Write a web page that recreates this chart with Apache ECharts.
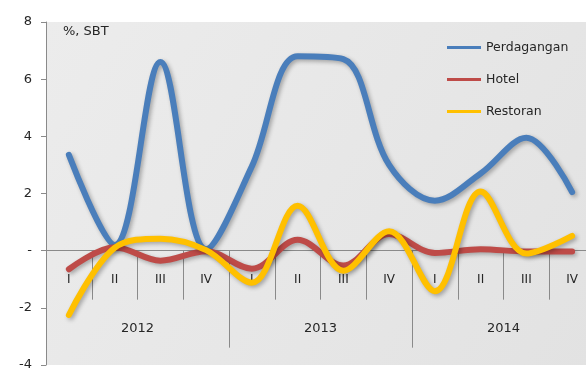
<!DOCTYPE html>
<html>
<head>
<meta charset="utf-8">
<script src="https://cdn.jsdelivr.net/npm/echarts@6/dist/echarts.min.js"></script>
<style>
  html, body { margin: 0; padding: 0; background: #ffffff; }
  #chart { width: 586px; height: 372px; }
</style>
</head>
<body>
<div id="chart"></div>
<script>
// Quarterly growth (%, q-o-q) of trade, hotel and restaurant sectors
var quarters = ['I', 'II', 'III', 'IV', 'I', 'II', 'III', 'IV', 'I', 'II', 'III', 'IV'];
var years = ['2012', '2013', '2014'];
var perdagangan = [3.35, 0.2, 6.6, 0.05, 2.95, 6.8, 6.7, 3.0, 1.75, 2.7, 3.95, 2.05];
var hotel = [-0.65, 0.12, -0.35, -0.02, -0.63, 0.38, -0.52, 0.58, -0.08, 0.05, -0.03, -0.03];
var restoran = [-2.25, 0.1, 0.42, 0.02, -1.12, 1.57, -0.7, 0.68, -1.42, 2.07, -0.1, 0.52];
var yTicks = { min: -4, max: 8, step: 2 };

var FONT = 'DejaVu Sans';
var TEXT = '#262626';
var AXIS = '#8a8a8a';

// plot box
var GRID = { left: 46, top: 22, width: 549, height: 343 };
// distance from the bottom edge of the plot up to the zero line
var zeroLift = GRID.height * (0 - yTicks.min) / (yTicks.max - yTicks.min);

var chart = echarts.init(document.getElementById('chart'), null, { renderer: 'canvas' });

function lineSeries(name, values, color) {
  return {
    name: name,
    type: 'line',
    data: values,
    smooth: 0.35,
    symbol: 'none',
    lineStyle: {
      color: color,
      width: 6,
      cap: 'round',
      shadowColor: 'rgba(0,0,0,0.3)',
      shadowBlur: 4,
      shadowOffsetX: 2,
      shadowOffsetY: 2
    },
    itemStyle: { color: color }
  };
}

chart.setOption({
  animation: false,
  backgroundColor: '#ffffff',
  textStyle: { fontFamily: FONT },
  title: {
    text: '%, SBT',
    left: 63,
    top: 25,
    padding: 0,
    textStyle: { fontFamily: FONT, fontSize: 13, fontWeight: 'normal', color: TEXT }
  },
  legend: {
    orient: 'vertical',
    left: 447,
    top: 41,
    padding: 0,
    itemGap: 19,
    itemWidth: 34,
    itemHeight: 3,
    icon: 'rect',
    textStyle: { fontFamily: FONT, fontSize: 12.5, color: TEXT },
    data: ['Perdagangan', 'Hotel', 'Restoran']
  },
  grid: {
    left: GRID.left,
    top: GRID.top,
    width: GRID.width,
    height: GRID.height,
    outerBoundsMode: 'none',
    containLabel: false,
    show: true,
    borderWidth: 0,
    backgroundColor: new echarts.graphic.LinearGradient(0, 0, 1, 1, [
      { offset: 0, color: '#ececec' },
      { offset: 1, color: '#e2e2e2' }
    ])
  },
  xAxis: [
    {
      type: 'category',
      data: quarters,
      position: 'bottom',
      offset: -zeroLift,
      axisLine: { onZero: false, lineStyle: { color: AXIS, width: 1 } },
      axisTick: { show: true, interval: 0, length: 49, lineStyle: { color: AXIS } },
      axisLabel: { interval: 0, margin: 23, fontFamily: FONT, fontSize: 12, color: TEXT },
      splitLine: { show: false }
    },
    {
      type: 'category',
      data: years,
      position: 'bottom',
      offset: -zeroLift,
      axisLine: { show: false, onZero: false },
      axisTick: { show: true, interval: 0, length: 97, lineStyle: { color: AXIS } },
      axisLabel: { interval: 0, margin: 71, fontFamily: FONT, fontSize: 13, color: TEXT },
      splitLine: { show: false }
    }
  ],
  yAxis: {
    type: 'value',
    min: yTicks.min,
    max: yTicks.max,
    interval: yTicks.step,
    axisLine: { show: true, onZero: false, lineStyle: { color: AXIS } },
    axisTick: { show: true, length: 5, lineStyle: { color: AXIS } },
    axisLabel: {
      margin: 14,
      fontFamily: FONT,
      fontSize: 13,
      color: TEXT,
      formatter: function (v) { return v === 0 ? '-' : String(v); }
    },
    splitLine: { show: false }
  },
  series: [
    lineSeries('Perdagangan', perdagangan, '#4a7ebb'),
    lineSeries('Hotel', hotel, '#be4b48'),
    lineSeries('Restoran', restoran, '#ffc000')
  ]
});
</script>
</body>
</html>
